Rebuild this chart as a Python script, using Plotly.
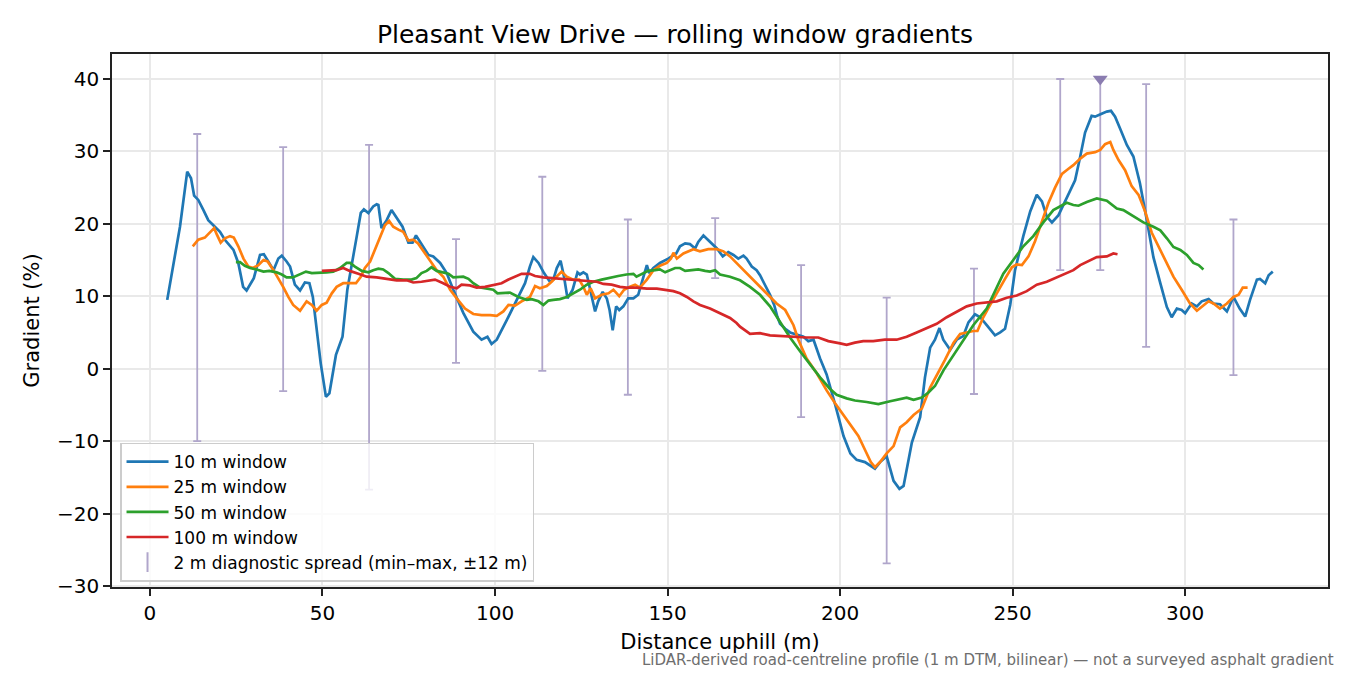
import plotly.graph_objects as go

# --- rolling window gradients (%) read along the road, distance uphill (m) ---
dist_10 = [5.0, 6.8, 8.7, 10.8, 11.9, 12.8, 14.0, 15.5, 16.9, 18.8, 20.3, 21.7, 24.2, 25.6, 27.0, 28.0,
           30.1, 31.9, 33.0, 34.3, 35.8, 37.2, 38.2, 39.6, 40.6, 42.0, 43.5, 44.9, 46.2, 47.2, 48.3, 49.5,
           51.0, 52.0, 53.9, 55.8, 57.2, 58.8, 59.9, 61.1, 62.0, 63.3, 64.7, 65.7, 66.2, 67.1, 68.6, 70.0,
           71.5, 73.2, 74.9, 76.1, 77.1, 78.3, 80.7, 82.1, 84.1, 86.0, 87.9, 90.8, 93.7, 96.1, 97.8, 99.0,
           100.5, 103.4, 106.3, 108.7, 110.1, 111.1, 112.6, 114.2, 115.9, 116.9, 117.9, 119.0, 120.0, 121.0,
           122.5, 123.9, 124.6, 125.6, 126.6, 127.5, 129.0, 129.9, 131.2, 132.4, 133.2, 134.1, 135.1, 136.0,
           137.2, 138.6, 140.1, 141.5, 142.8, 144.0, 144.7, 145.9, 147.8, 150.2, 152.5, 153.6, 155.1, 156.5,
           158.0, 158.9, 160.4, 162.3, 164.3, 166.0, 167.6, 169.1, 170.5, 172.0, 172.9, 174.4, 175.8, 176.8,
           178.3, 179.7, 180.9, 181.8, 182.6, 184.1, 185.5, 187.4, 189.4, 190.8, 192.3, 194.2, 196.1, 198.6,
           201.0, 203.0, 204.8, 207.2, 209.2, 210.1, 211.6, 213.5, 215.5, 217.2, 218.4, 219.3, 220.8, 223.2,
           224.6, 226.1, 227.5, 228.8, 229.9, 231.9, 233.8, 235.7, 237.2, 239.1, 240.6, 242.5, 244.9, 246.4,
           247.8, 249.3, 250.7, 253.1, 255.1, 257.0, 258.5, 259.9, 261.4, 263.3, 265.7, 268.1, 269.6, 271.0,
           272.9, 273.9, 275.8, 277.3, 278.5, 279.7, 281.2, 283.1, 285.0, 286.9, 288.9, 290.8, 292.8, 294.7,
           296.1, 297.6, 299.0, 300.0, 301.9, 303.4, 304.8, 306.8, 308.2, 310.1, 312.1, 314.0, 315.8, 317.4,
           318.8, 320.8, 321.7, 323.2, 324.2, 325.4]
grad_10 = [9.5, 14.6, 19.6, 27.2, 26.3, 23.9, 23.3, 21.9, 20.5, 19.6, 18.9, 17.8, 16.4, 14.6, 11.3, 10.8,
           12.5, 15.7, 15.8, 14.8, 13.6, 15.2, 15.6, 14.8, 14.1, 11.6, 10.8, 11.9, 11.8, 9.9, 5.3, 0.7,
           -3.9, -3.4, 1.9, 4.4, 10.9, 15.0, 18.2, 21.5, 22.0, 21.5, 22.4, 22.7, 22.6, 19.4, 20.5, 21.9,
           20.8, 19.6, 17.4, 17.4, 18.4, 17.5, 15.7, 15.5, 14.6, 13.2, 10.9, 7.7, 5.1, 4.0, 4.4, 3.4,
           4.0, 6.7, 9.5, 11.8, 14.1, 15.4, 14.6, 13.2, 12.0, 12.3, 13.9, 14.9, 12.7, 9.7,
           10.9, 13.3, 13.0, 13.3, 13.0, 10.9, 7.9, 9.3, 10.6, 9.7, 8.1, 5.3, 8.6, 8.1,
           8.6, 9.7, 9.7, 10.2, 12.3, 14.3, 13.2, 13.9, 14.6, 15.2, 15.9, 16.9, 17.3, 17.2,
           16.6, 17.5, 18.4, 17.5, 16.6, 15.5, 16.1, 15.7, 15.2, 15.6, 15.2, 14.1, 13.6, 12.9,
           11.6, 10.2, 8.8, 7.2, 6.2, 5.5, 5.0, 4.7, 4.4, 3.8, 4.0, 1.4, -0.8, -5.0,
           -9.3, -11.7, -12.6, -12.9, -13.6, -13.8, -12.9, -12.1, -15.5, -16.6, -16.2, -14.0, -10.2, -6.7,
           -1.2, 2.9, 4.0, 5.6, 4.0, 2.6, 4.0, 4.5, 6.4, 7.5, 7.1, 6.0, 4.6, 5.0,
           5.5, 8.8, 13.6, 18.3, 21.7, 24.0, 23.1, 21.0, 20.2, 21.2, 23.6, 26.0, 29.3, 32.6,
           34.9, 34.8, 35.2, 35.5, 35.6, 34.8, 33.1, 30.9, 29.3, 25.6, 20.5, 15.4, 11.8, 8.5,
           7.1, 8.3, 8.1, 7.65, 9.0, 8.6, 9.3, 9.6, 9.0, 8.9, 7.9, 9.9, 8.3, 7.2,
           9.5, 12.3, 12.4, 11.8, 12.9, 13.4]

dist_25 = [12.4, 14.0, 15.9, 17.2, 18.6, 19.4, 20.5, 21.7, 23.2, 24.3, 25.6, 27.1, 28.5, 29.9, 31.4, 32.9,
           34.1, 35.8, 37.2, 38.6, 40.1, 41.5, 43.5, 45.4, 46.9, 48.3, 49.8, 51.2, 52.7, 54.1, 56.0, 57.9,
           59.7, 61.1, 62.3, 63.8, 65.2, 66.7, 68.1, 69.3, 70.5, 72.0, 73.4, 74.9, 76.3, 77.7, 79.7, 81.2,
           83.1, 85.0, 87.0, 88.9, 91.3, 93.7, 96.1, 98.6, 100.5, 102.4, 103.9, 105.8, 107.7, 110.1, 111.6,
           113.0, 115.0, 116.4, 117.9, 119.3, 120.8, 122.5, 124.4, 125.6, 126.6, 127.7, 129.0, 130.9, 132.9,
           134.3, 136.0, 137.4, 139.1, 140.6, 142.0, 144.0, 145.9, 147.8, 149.8, 151.0, 151.7, 152.7, 154.6,
           157.5, 159.4, 161.8, 164.3, 166.2, 168.1, 170.0, 172.0, 174.4, 176.8, 179.2, 181.6, 184.1, 185.5,
           186.5, 187.9, 190.3, 193.2, 196.1, 198.6, 201.0, 203.4, 205.3, 207.2, 208.9, 210.1, 211.6, 213.5,
           215.5, 217.4, 219.3, 221.3, 223.7, 226.1, 228.5, 230.4, 232.9, 234.8, 236.7, 238.6, 239.8, 241.5,
           243.5, 245.9, 247.8, 249.8, 251.2, 252.7, 254.6, 256.5, 258.5, 260.4, 262.3, 264.3, 266.2, 267.6,
           269.6, 271.5, 273.9, 275.4, 276.8, 278.3, 279.2, 280.7, 282.6, 284.5, 286.5, 288.4, 290.3, 292.8,
           294.7, 296.6, 299.0, 301.4, 303.4, 305.3, 306.8, 308.2, 310.1, 312.1, 314.0, 315.5, 316.7, 318.1]
grad_25 = [16.9, 17.8, 18.1, 18.8, 19.4, 18.5, 17.4, 18.0, 18.3, 18.1, 16.9, 15.2, 14.1, 13.9, 14.3, 15.0,
           14.8, 13.6, 12.5, 11.3, 9.9, 8.8, 8.0, 9.3, 8.8, 8.0, 8.8, 9.1, 10.4, 11.3, 11.8, 11.8,
           11.8, 12.7, 13.9, 14.8, 16.4, 18.2, 19.8, 20.4, 19.6, 19.2, 18.9, 17.7, 17.8, 17.3, 15.9, 15.0,
           13.6, 12.7, 10.9, 9.7, 8.3, 7.55, 7.4, 7.4, 7.3, 7.9, 8.8, 8.7, 9.3, 9.9, 11.4,
           11.1, 11.4, 12.0, 12.7, 13.4, 12.7, 12.3, 12.3, 11.3, 10.2, 11.1, 9.7, 10.2, 10.4,
           10.9, 10.0, 10.9, 11.3, 11.6, 11.2, 12.3, 13.6, 14.2, 14.6, 15.2, 16.0, 15.2, 15.9,
           16.5, 16.2, 16.5, 16.5, 16.2, 15.5, 14.6, 13.6, 12.5, 11.3, 10.2, 9.0, 8.1, 6.9,
           6.0, 4.0, 1.4, -0.6, -3.0, -4.8, -6.4, -8.1, -9.3, -11.2, -12.9, -13.6, -12.9, -11.7,
           -10.7, -8.1, -7.4, -6.4, -5.5, -2.6, -0.5, 1.2, 3.6, 4.8, 5.0, 5.2, 5.2, 7.1,
           8.8, 10.7, 12.4, 14.0, 14.4, 14.3, 15.5, 17.6, 20.2, 22.9, 25.0, 26.9, 27.6, 28.1,
           29.0, 29.7, 29.9, 30.2, 31.0, 31.3, 30.2, 28.8, 27.4, 25.2, 24.0, 21.7, 18.8, 16.4,
           14.6, 12.7, 10.9, 9.0, 8.0, 8.8, 9.3, 9.0, 8.3, 9.0, 9.9, 10.2, 11.2, 11.2]

dist_50 = [24.9, 26.1, 27.5, 29.0, 30.9, 32.9, 34.6, 36.7, 38.2, 39.6, 41.4, 43.0, 45.2, 46.9, 48.8, 51.2,
           53.1, 55.1, 57.0, 58.0, 59.4, 61.4, 63.3, 64.7, 66.2, 67.6, 69.1, 71.0, 73.4, 75.8, 77.2, 78.7,
           80.2, 81.6, 83.1, 85.0, 86.5, 87.9, 89.4, 90.8, 92.3, 93.7, 95.7, 97.6, 99.5, 100.7, 102.9, 104.3,
           106.8, 109.2, 110.6, 112.6, 114.0, 115.5, 116.9, 118.8, 120.8, 122.7, 124.6, 126.6, 128.5, 130.9,
           133.3, 135.7, 138.1, 140.1, 141.0, 142.5, 144.4, 146.4, 147.8, 149.3, 150.7, 152.2, 153.6, 155.1,
           157.0, 158.9, 160.9, 162.3, 163.8, 165.2, 168.1, 171.0, 173.9, 176.8, 179.7, 181.6, 183.1, 185.5,
           188.4, 191.3, 194.2, 197.1, 199.0, 201.9, 204.3, 207.7, 211.1, 214.5, 216.9, 219.3, 221.3, 223.7,
           225.6, 227.5, 230.0, 232.9, 235.7, 238.6, 242.5, 245.4, 247.3, 250.2, 253.1, 256.0, 258.9, 261.8,
           263.8, 265.7, 267.6, 269.1, 271.5, 274.4, 277.3, 280.2, 282.1, 285.0, 287.9, 290.8, 292.8, 294.7,
           296.6, 298.6, 300.5, 302.4, 303.9, 305.3]
grad_50 = [14.7, 14.7, 14.2, 13.9, 13.7, 13.4, 13.5, 13.3, 13.0, 12.6, 12.6, 12.9, 13.4, 13.2, 13.2, 13.3,
           13.4, 13.9, 14.6, 14.6, 14.1, 13.5, 13.3, 13.6, 13.8, 13.7, 13.2, 12.4, 12.3, 12.3, 12.5, 13.2,
           13.5, 14.0, 13.5, 13.3, 13.1, 12.6, 12.6, 12.7, 12.4, 11.8, 11.2, 11.1, 10.9, 10.4, 10.4, 10.5,
           9.9, 9.5, 9.6, 9.3, 8.8, 9.4, 9.5, 9.6, 9.9, 10.4, 10.9, 11.6, 12.0, 12.3,
           12.6, 12.8, 13.0, 13.1, 12.7, 13.1, 13.5, 13.6, 13.7, 13.3, 13.6, 13.9, 13.9, 13.5,
           13.6, 13.7, 13.5, 13.4, 13.6, 13.0, 12.7, 12.2, 11.3, 10.2, 8.6, 7.2, 6.0, 4.3,
           2.4, 0.6, -1.2, -2.8, -3.6, -4.1, -4.4, -4.6, -4.9, -4.5, -4.3, -4.0, -4.3, -4.0,
           -3.3, -2.4, -0.2, 1.9, 4.0, 6.0, 8.3, 11.2, 13.1, 15.0, 16.9, 18.3, 20.2, 21.9,
           22.4, 22.9, 22.6, 22.5, 23.0, 23.5, 23.2, 22.1, 21.9, 21.1, 20.2, 19.6, 19.1, 18.0,
           16.8, 16.4, 15.7, 14.6, 14.3, 13.7]

dist_100 = [49.8, 52.2, 54.1, 56.0, 57.9, 60.4, 62.8, 65.7, 68.6, 71.5, 74.4, 76.3, 78.7, 81.2, 82.6, 85.0,
            87.0, 88.9, 90.3, 92.7, 94.7, 97.1, 99.5, 101.9, 103.9, 105.8, 107.7, 110.1, 111.6, 114.0, 116.4,
            118.8, 120.8, 123.7, 126.6, 129.5, 131.4, 133.8, 136.2, 138.1, 141.0, 144.0, 146.9, 149.8, 151.7,
            153.6, 155.6, 157.5, 159.4, 162.3, 165.2, 168.1, 170.0, 171.0, 173.9, 176.8, 179.7, 182.6, 186.5,
            190.3, 193.7, 196.6, 200.0, 201.9, 204.3, 206.7, 209.6, 213.0, 216.4, 219.3, 222.2, 225.1, 228.0,
            230.9, 233.8, 236.7, 239.6, 242.5, 245.4, 248.3, 251.2, 254.1, 257.0, 259.9, 262.8, 265.7, 267.6,
            269.6, 272.5, 274.4, 277.3, 279.2, 280.4]
grad_100 = [13.5, 13.5, 13.6, 13.9, 13.5, 13.1, 12.7, 12.6, 12.4, 12.2, 12.2, 11.9, 12.0, 12.2, 12.3, 11.8,
            11.3, 11.1, 11.6, 11.5, 11.2, 11.3, 11.6, 11.8, 12.3, 12.7, 13.1, 13.1, 12.8, 12.6, 12.5,
            12.4, 12.3, 12.2, 12.1, 12.0, 11.7, 11.6, 11.3, 11.2, 11.2, 11.05, 11.05, 10.9, 10.7,
            10.4, 9.9, 9.3, 8.8, 8.3, 7.7, 7.0, 6.3, 5.8, 4.8, 4.9, 4.6, 4.5, 4.4,
            4.3, 4.3, 3.8, 3.5, 3.3, 3.6, 3.8, 3.8, 4.0, 4.0, 4.4, 5.0, 5.6, 6.2,
            7.1, 7.9, 8.6, 9.0, 9.2, 9.3, 9.8, 10.1, 10.7, 11.6, 12.0, 12.6, 13.2, 13.6,
            14.3, 15.0, 15.4, 15.5, 15.9, 15.8]

# 2 m diagnostic spread: min and max of the 2 m gradient within +-12 m
spread_dist = [13.7, 38.6, 63.5, 88.7, 113.7, 138.5, 163.8, 188.7, 213.5, 238.8, 263.8, 275.4, 288.7, 314.0]
spread_max = [32.4, 30.6, 30.9, 17.9, 26.5, 20.6, 20.8, 14.3, 9.8, 13.8, 40.0, 40.0, 39.3, 20.6]
spread_min = [-10.0, -3.1, -16.7, 0.8, -0.3, -3.6, 12.5, -6.7, -26.9, -3.5, 13.6, 13.6, 3.0, -0.9]

# steepest point, flagged at the top of the axis
peak_dist = [275.4]
peak_grad = [40.0]

FONT = "DejaVu Sans"
SPREAD_COL = "#b0a6cb"
PEAK_COL = "#8a7cb0"

mid = [(a + b) / 2 for a, b in zip(spread_min, spread_max)]

fig = go.Figure()

# spread bars (behind the lines)
fig.add_trace(go.Scatter(
    x=spread_dist, y=mid, mode="markers",
    marker=dict(size=1, color="rgba(0,0,0,0)"),
    error_y=dict(type="data", symmetric=False,
                 array=[h - m for h, m in zip(spread_max, mid)],
                 arrayminus=[m - l for m, l in zip(mid, spread_min)],
                 color=SPREAD_COL, thickness=1.8, width=4),
    showlegend=False, hoverinfo="skip"))

fig.add_trace(go.Scatter(
    x=peak_dist, y=peak_grad, mode="markers",
    marker=dict(symbol="triangle-down", size=13, color=PEAK_COL),
    showlegend=False))

series = [
    (dist_10, grad_10, "10 m window", "#1f77b4"),
    (dist_25, grad_25, "25 m window", "#ff7f0e"),
    (dist_50, grad_50, "50 m window", "#2ca02c"),
    (dist_100, grad_100, "100 m window", "#d62728"),
]
for xs, ys, name, col in series:
    fig.add_trace(go.Scatter(x=xs, y=ys, mode="lines", name=name,
                             line=dict(color=col, width=2.7)))

# legend entry for the spread bars
fig.add_trace(go.Scatter(
    x=[None], y=[None], mode="markers", name="2 m diagnostic spread (min–max, ±12 m)",
    marker=dict(symbol="line-ns", size=14, line=dict(color=SPREAD_COL, width=2))))

axis_common = dict(
    showline=True, linecolor="#222222", linewidth=1.7, mirror=True,
    ticks="outside", ticklen=7, tickwidth=1.7, tickcolor="#222222",
    showgrid=True, gridcolor="#e9e9e9", gridwidth=1.5, zeroline=False,
    tickfont=dict(family=FONT, size=20, color="#000000"),
)

fig.update_layout(
    width=1350, height=675,
    margin=dict(l=112, r=22, t=54, b=88),
    paper_bgcolor="white", plot_bgcolor="white",
    font=dict(family=FONT, color="#000000"),
    title=dict(text="Pleasant View Drive — rolling window gradients",
               x=0.5, xanchor="center", y=1 - 34 / 675, yanchor="middle",
               font=dict(family=FONT, size=25, color="#000000")),
    xaxis=dict(range=[-11.0, 341.4], tickvals=[0, 50, 100, 150, 200, 250, 300],
               title=dict(text="Distance uphill (m)", font=dict(family=FONT, size=21), standoff=10),
               **axis_common),
    yaxis=dict(range=[-30.15, 43.45], tickvals=[-30, -20, -10, 0, 10, 20, 30, 40],
               title=dict(text="Gradient (%)", font=dict(family=FONT, size=21), standoff=12),
               **axis_common),
    legend=dict(x=0.0066, y=0.01, xanchor="left", yanchor="bottom", itemwidth=42,
                bgcolor="rgba(255,255,255,0.8)", bordercolor="#cccccc", borderwidth=1.5,
                font=dict(family=FONT, size=17, color="#000000")),
    annotations=[dict(
        text="LiDAR-derived road-centreline profile (1 m DTM, bilinear) — not a surveyed asphalt gradient",
        xref="paper", yref="paper", x=1.0066, y=-0.137, xanchor="right", yanchor="middle",
        showarrow=False, font=dict(family=FONT, size=15, color="#6e6e6e"))],
)

# the page's default body margin would push the figure 8 px right and down
fig.write_html("out.html", config={"displayModeBar": False},
               post_script="document.body.style.margin = '0';")
